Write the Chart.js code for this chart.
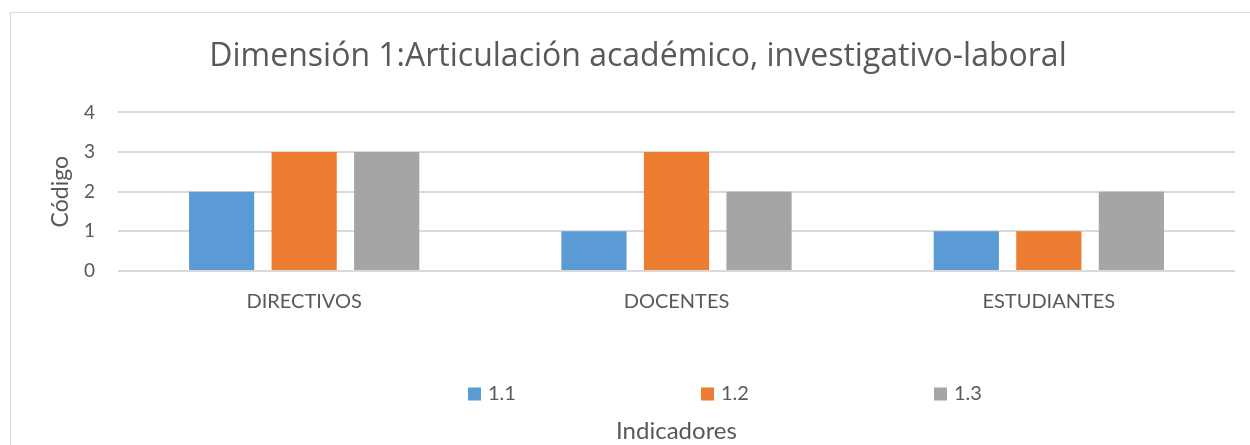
<!DOCTYPE html>
<html>
<head>
<meta charset="utf-8">
<script src="https://cdn.jsdelivr.net/npm/chart.js@4"></script>
<style>
  body { margin: 0; background: #fff; }
  #wrap { position: absolute; left: 10px; top: 12px; border: 1px solid #d9d9d9; }
</style>
</head>
<body>
<div id="wrap"><canvas id="dimChart" width="1239" height="440"></canvas></div>
<script>
var categories = ["DIRECTIVOS", "DOCENTES", "ESTUDIANTES"];
var seriesNames = ["1.1", "1.2", "1.3"];
var serie11 = [2, 1, 1];
var serie12 = [3, 3, 1];
var serie13 = [3, 2, 2];
var yTicks = [0, 1, 2, 3, 4];

var textColor = "#595959";
var colors = ["#5b9bd5", "#ed7d31", "#a5a5a5"];

// legend spread out like the excel one, sits between the labels and the axis title
var wideLegend = {
    id: "wideLegend",
    afterDraw: function (chart) {
        var ctx = chart.ctx;
        ctx.save();
        ctx.font = "20px Lato";
        ctx.textBaseline = "middle";
        ctx.textAlign = "left";
        chart.data.datasets.forEach(function (ds, i) {
            var x = 457 + i * 233;
            var y = 381;
            ctx.fillStyle = ds.backgroundColor;
            ctx.fillRect(x, y - 6.5, 13, 13);
            ctx.fillStyle = textColor;
            ctx.fillText(ds.label, x + 20, y);
        });
        ctx.restore();
    }
};

document.addEventListener("DOMContentLoaded", function () {
    var ctx = document.getElementById("dimChart").getContext("2d");
    var values = [serie11, serie12, serie13];

    new Chart(ctx, {
        type: "bar",
        data: {
            labels: categories,
            datasets: seriesNames.map(function (name, i) {
                return {
                    label: name,
                    data: values[i],
                    backgroundColor: colors[i],
                    borderWidth: 0,
                    categoryPercentage: 0.665,
                    barPercentage: 0.79
                };
            })
        },
        plugins: [wideLegend],
        options: {
            responsive: false,
            animation: false,
            layout: { padding: { left: 30, right: 15, top: 0, bottom: 0 } },
            plugins: {
                legend: { display: false },
                tooltip: { enabled: false },
                title: {
                    display: true,
                    text: "Dimensión 1:Articulación académico, investigativo-laboral",
                    color: textColor,
                    font: { family: "Open Sans", size: 32, weight: "normal" },
                    padding: { top: 25, bottom: 36 }
                }
            },
            scales: {
                x: {
                    grid: { display: false, drawTicks: false },
                    border: { display: false },
                    ticks: { color: textColor, font: { family: "Lato", size: 20 }, padding: 19 },
                    title: {
                        display: true,
                        text: "Indicadores",
                        color: textColor,
                        font: { family: "Lato", size: 24 },
                        padding: { top: 0, bottom: 7 }
                    },
                    afterFit: function (scale) { scale.height = 182; }
                },
                y: {
                    min: 0,
                    max: 4,
                    afterBuildTicks: function (scale) {
                        scale.ticks = yTicks.map(function (v) { return { value: v }; });
                    },
                    grid: { color: "#d9d9d9", lineWidth: 2, drawTicks: false },
                    border: { display: false },
                    ticks: { color: textColor, font: { family: "Lato", size: 19 }, padding: 23 },
                    title: {
                        display: true,
                        text: "Código",
                        color: textColor,
                        font: { family: "Lato", size: 23 },
                        padding: { top: 6, bottom: 0 }
                    },
                    afterFit: function (scale) { scale.width = 77; }
                }
            }
        }
    });
});
</script>
</body>
</html>
